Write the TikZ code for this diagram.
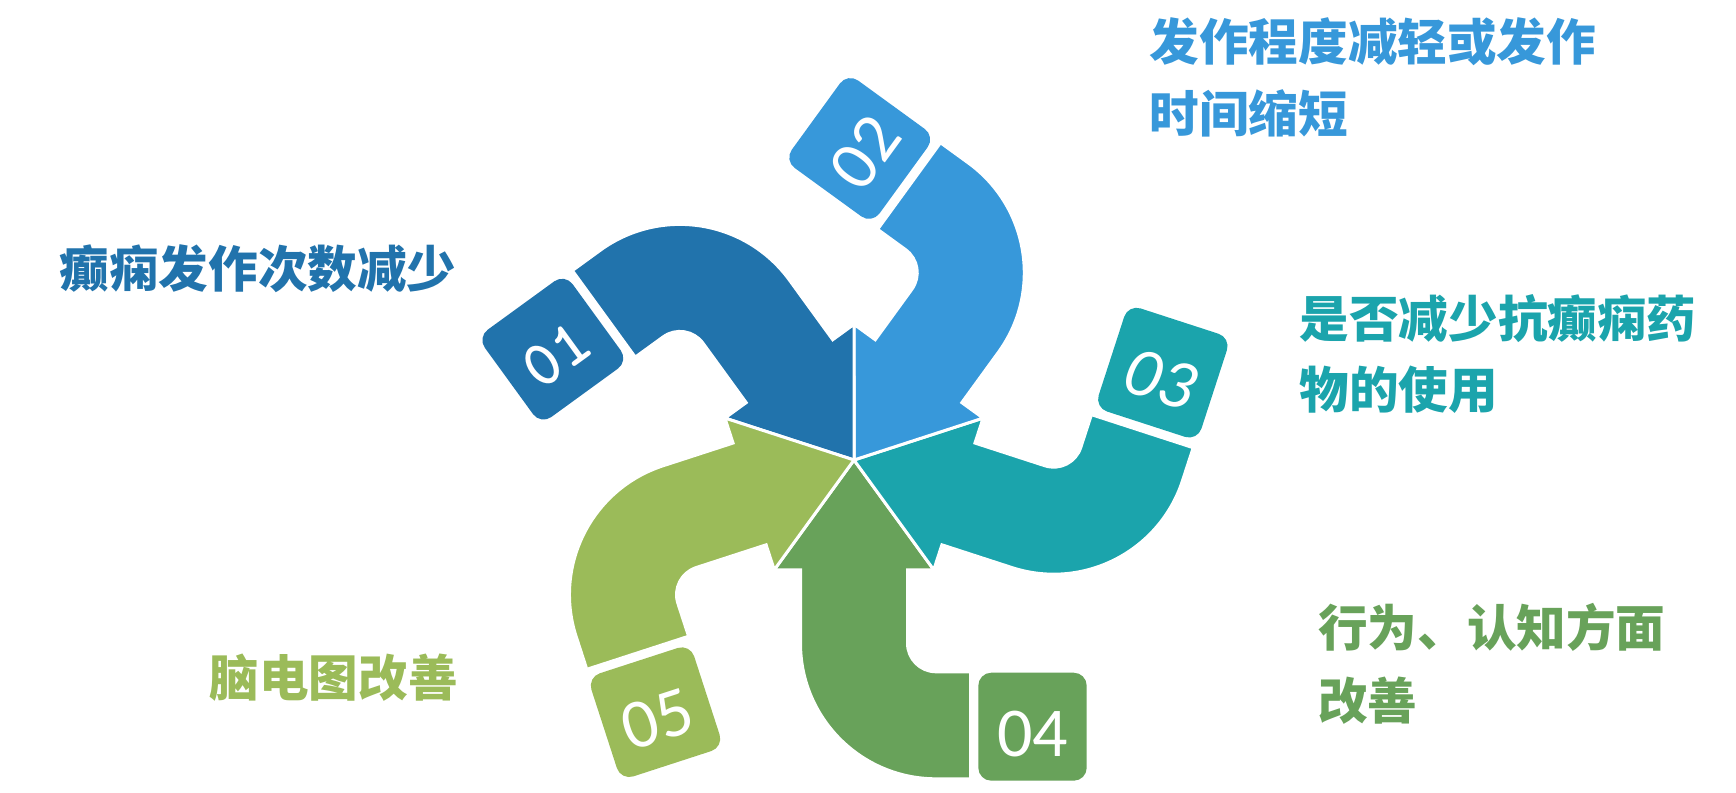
\documentclass[tikz,border=0pt]{standalone}
\usepackage{fontspec}
\newfontfamily\cjk{Noto Sans CJK SC}
\newfontfamily\carlito{Carlito}
\definecolor{cA}{RGB}{33,115,172}
\definecolor{cB}{RGB}{55,152,218}
\definecolor{cC}{RGB}{27,164,172}
\definecolor{cD}{RGB}{104,162,90}
\definecolor{cE}{RGB}{155,187,89}
\tikzset{
  arrowbody/.style={draw=white, line width=3pt, line join=miter},
  lbl/.style={font=\cjk\bfseries\fontsize{49.6}{60}\selectfont, anchor=base west, inner sep=0pt},
  numtxt/.style={text=white, inner sep=0pt}
}
% #1 rotation, #2 colour, #3 turn position, #4 name of box centre
\newcommand{\OneArrow}[4]{%
  \begin{scope}[shift={(854,-460)}, rotate=#1]
    \filldraw[arrowbody, fill=#2] (0,0) -- (79.8,-109.8) -- (53.5,-109.8) -- (53.5,-#3)
      arc[start angle=180, end angle=270, radius=28.5] -- (116.5,-#3-28.5)
      -- (116.5,-#3-135.5) -- (82,-#3-135.5)
      arc[start angle=270, end angle=180, radius=135.5] -- (-53.5,-109.8)
      -- (-79.8,-109.8) -- cycle;
    \fill[#2, rounded corners=13pt] (124.3,-#3-29.4) rectangle (232.7,-#3-137.4);
    \coordinate (#4) at (178.5,-#3-83.4);
  \end{scope}}
% #1 name, #2 colour, #3 x, #4 baseline y, #5 text
\newcommand{\Lbl}[5]{%
  \node[lbl, text=#2] (#1) at (#3,-#4) {#5};}
\begin{document}
\begin{tikzpicture}[x=1pt, y=1pt]
\useasboundingbox (0,0) rectangle (1736,-792);
\fill[white] (0,0) rectangle (1736,-792);

\OneArrow{0}{cD}{183.3}{b4}
\OneArrow{72}{cC}{183.3}{b3}
\OneArrow{144}{cB}{172}{b2}
\OneArrow{216}{cA}{183.3}{b1}
\OneArrow{288}{cE}{183.3}{b5}

\path (b4) ++(-90:7) node[numtxt, rotate=0, font=\carlito\fontsize{70}{70}\selectfont] (n4) {04};
\path (b3) ++(-108:7) node[numtxt, rotate=-18, font=\carlito\itshape\fontsize{70}{70}\selectfont] (n3) {03};
\path (b2) ++(-36:7) node[numtxt, rotate=54, font=\carlito\fontsize{70}{70}\selectfont] (n2) {02};
\path (b1) ++(-54:7) node[numtxt, rotate=36, font=\ttfamily\bfseries\fontsize{66}{66}\selectfont] (n1) {01};
\path (b5) ++(-72:7) node[numtxt, rotate=18, font=\carlito\fontsize{70}{70}\selectfont] (n5) {05};

\Lbl{t1}{cA}{59.5}{287}{癫痫发作次数减少}
\Lbl{t2a}{cB}{1149.5}{60}{发作程度减轻或发作}
\Lbl{t2b}{cB}{1149.5}{132}{时间缩短}
\Lbl{t3a}{cC}{1299.5}{337}{是否减少抗癫痫药}
\Lbl{t3b}{cC}{1299.5}{408}{物的使用}
\Lbl{t4a}{cD}{1318}{646.5}{行为、认知方面}
\Lbl{t4b}{cD}{1318}{719}{改善}
\Lbl{t5}{cE}{209.5}{696}{脑电图改善}
\end{tikzpicture}
\end{document}
